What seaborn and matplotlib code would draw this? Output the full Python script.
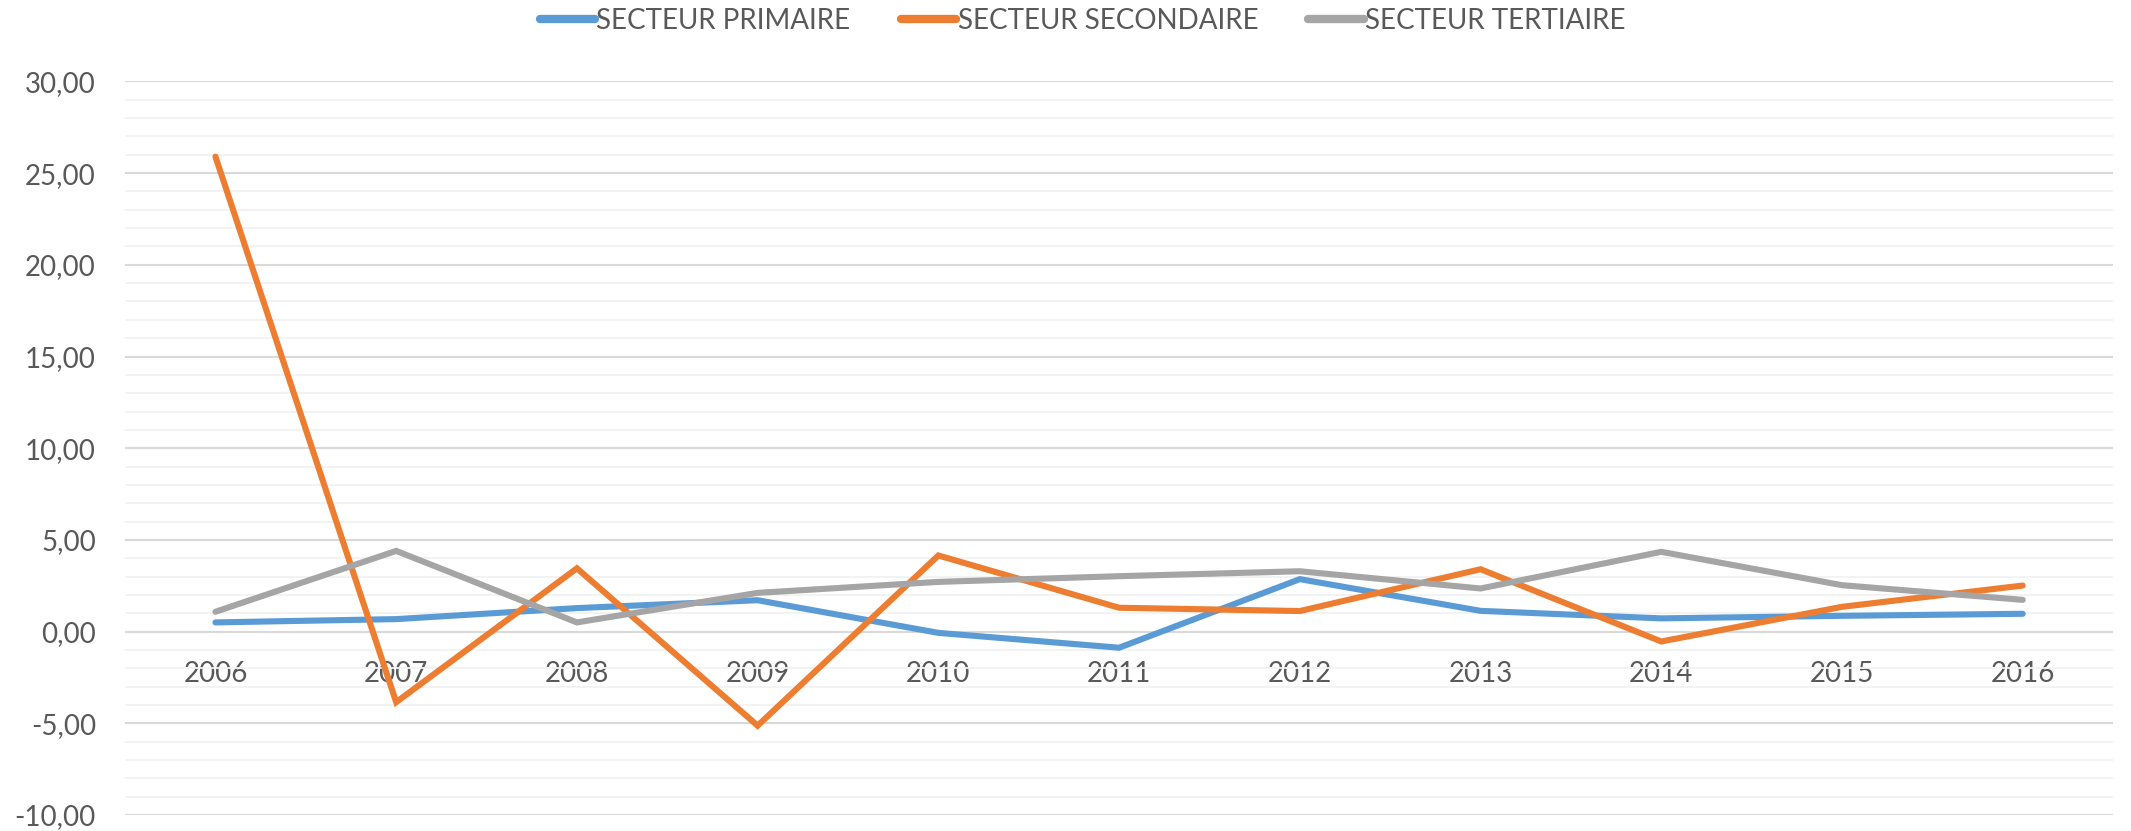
import pandas as pd
import matplotlib.pyplot as plt
import seaborn as sns
from matplotlib.ticker import MultipleLocator, FuncFormatter

annees = [2006, 2007, 2008, 2009, 2010, 2011, 2012, 2013, 2014, 2015, 2016]
primaire = [0.50, 0.68, 1.28, 1.71, -0.07, -0.88, 2.86, 1.13, 0.72, 0.86, 0.97]
secondaire = [25.9, -3.85, 3.45, -5.13, 4.15, 1.30, 1.12, 3.40, -0.54, 1.35, 2.51]
tertiaire = [1.08, 4.40, 0.50, 2.11, 2.71, 3.02, 3.29, 2.35, 4.35, 2.53, 1.73]

secteurs = ['SECTEUR PRIMAIRE', 'SECTEUR SECONDAIRE', 'SECTEUR TERTIAIRE']
couleurs = ['#5B9BD5', '#ED7D31', '#A5A5A5']

data = pd.DataFrame({
    'annee': annees * 3,
    'valeur': primaire + secondaire + tertiaire,
    'secteur': [s for s in secteurs for _ in annees],
})

sns.set_style('white')
plt.rcParams['font.family'] = ['Lato', 'DejaVu Sans']
gris_texte = '#595959'

fig = plt.figure(figsize=(21.31, 8.31), dpi=100)
ax = fig.add_axes([0.0587, 0.0193, 0.9329, 0.8827])

sns.lineplot(data=data, x='annee', y='valeur', hue='secteur',
             palette=dict(zip(secteurs, couleurs)), linewidth=4.4,
             legend=True, ax=ax)
for ln in ax.lines:
    ln.set_solid_capstyle('round')
    ln.set_solid_joinstyle('miter')

ax.set_xlim(2005.5, 2016.5)
ax.set_ylim(-10, 30)
ax.yaxis.set_major_locator(MultipleLocator(5))
ax.yaxis.set_minor_locator(MultipleLocator(1))
ax.yaxis.set_major_formatter(FuncFormatter(lambda v, p: f'{v:.2f}'.replace('.', ',')))
ax.set_xticks(annees)
ax.set_xticklabels([str(a) for a in annees])

ax.grid(axis='y', which='major', color='#D9D9D9', linewidth=1.5)
ax.grid(axis='y', which='minor', color='#F2F2F2', linewidth=1.3)
ax.grid(axis='x', visible=False)
ax.set_axisbelow(True)

for s in ['top', 'right', 'left']:
    ax.spines[s].set_visible(False)
ax.spines['bottom'].set_position(('data', 0))
ax.spines['bottom'].set_visible(False)

ax.tick_params(axis='both', which='both', length=0, labelsize=20, labelcolor=gris_texte)
ax.tick_params(axis='y', pad=21)
ax.tick_params(axis='x', pad=21)
ax.set_xlabel('')
ax.set_ylabel('')

handles, labels = ax.get_legend_handles_labels()
ax.legend(handles, labels, loc='center', bbox_to_anchor=(0.508, 0.975),
          bbox_transform=fig.transFigure, ncol=3, frameon=False,
          fontsize=20, labelcolor=gris_texte, handlelength=2.0,
          handletextpad=0.05, columnspacing=1.8)
for lh in ax.get_legend().get_lines():
    lh.set_linewidth(6)
    lh.set_solid_capstyle('round')

fig.savefig('out.png', dpi=100)
